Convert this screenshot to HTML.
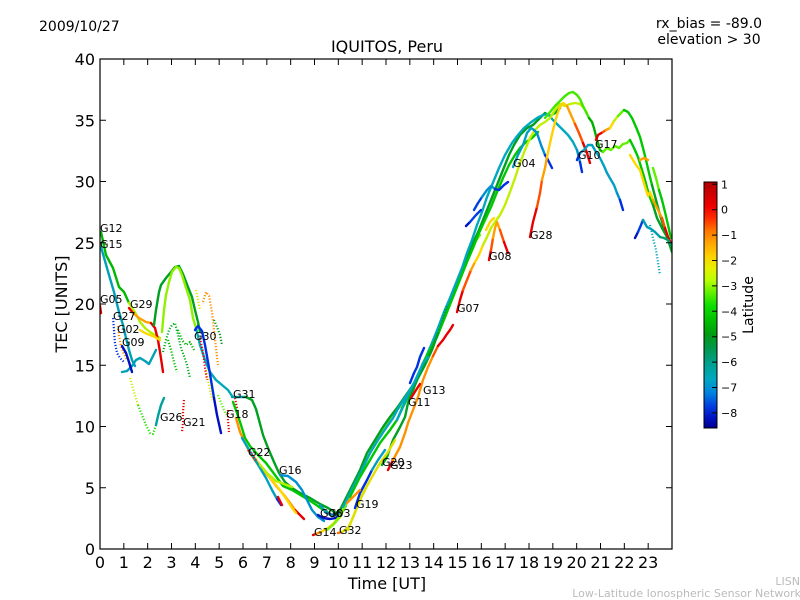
<!DOCTYPE html>
<html><head><meta charset="utf-8"><style>
html,body{margin:0;padding:0;background:#fff;}
svg{display:block;}
text{font-family:"DejaVu Sans","Liberation Sans",sans-serif;fill:#000;}
.d{stroke-width:2.2;stroke-dasharray:1.2 1.8;stroke-linecap:butt;}
</style></head><body>
<svg width="800" height="600" viewBox="0 0 800 600" xmlns="http://www.w3.org/2000/svg">
<defs>
<linearGradient id="cb" x1="0" y1="0" x2="0" y2="1">
<stop offset="0" stop-color="#b00000"/>
<stop offset="0.05" stop-color="#d00000"/>
<stop offset="0.10" stop-color="#f00000"/>
<stop offset="0.15" stop-color="#ff3000"/>
<stop offset="0.20" stop-color="#ff7800"/>
<stop offset="0.25" stop-color="#ffa800"/>
<stop offset="0.30" stop-color="#ffd000"/>
<stop offset="0.35" stop-color="#e8f000"/>
<stop offset="0.40" stop-color="#b8ff00"/>
<stop offset="0.45" stop-color="#60f000"/>
<stop offset="0.50" stop-color="#10e000"/>
<stop offset="0.56" stop-color="#00c000"/>
<stop offset="0.62" stop-color="#009a10"/>
<stop offset="0.68" stop-color="#009850"/>
<stop offset="0.74" stop-color="#00a090"/>
<stop offset="0.80" stop-color="#00a8c0"/>
<stop offset="0.86" stop-color="#0080e0"/>
<stop offset="0.91" stop-color="#0040e0"/>
<stop offset="0.96" stop-color="#0010c0"/>
<stop offset="1" stop-color="#000090"/>
</linearGradient>
<clipPath id="pa"><rect x="100" y="59" width="572" height="490"/></clipPath>
</defs>
<rect width="800" height="600" fill="#fff"/>

<g clip-path="url(#pa)" fill="none" stroke-linecap="round" stroke-linejoin="round" stroke-width="2.4">
<!-- early hours -->
<polyline stroke="#00b800" points="101,232 106,255 113,268 119,287 124,292 129,303"/>
<polyline stroke="#b0f000" points="129,303 131,306 136,314 140,322 145,328 150,332 155,335 160,338"/>
<polyline stroke="#00a0b8" points="101,247 109,275 114,292 119,312 123,325 126,338 129,350 132,360 135,366"/>
<polyline stroke="#00a0b8" points="122,372 127,371 132,366 136,360 140,358 145,361 149,364 153,356 156,350"/>
<polyline stroke="#e80000" points="100,306 101,313"/>
<polyline stroke="#e80000" points="129,308 133,313"/>
<polyline stroke="#ffa000" points="133,313 139,318 146,322 151,323"/>
<polyline stroke="#e80000" points="151,323 155,328 158,340 160,352 162,365 163,372"/>
<polyline stroke="#ffd800" points="140,330 145,333 150,335 155,337 160,340"/>
<polyline class="d" stroke="#0030e0" points="113,318 114,330 115,343 117,353 120,358 124,362"/>
<polyline class="d" stroke="#ff9000" points="118,326 119,336 121,346 124,354 127,360"/>
<polyline stroke="#0010c0" points="122,346 126,353 129,362 132,372"/>
<polyline class="d" stroke="#c0f000" points="130,378 134,392 138,405"/>
<polyline class="d" stroke="#20e000" points="138,405 142,415 146,425 150,433 153,434 156,425"/>
<polyline stroke="#00a0a0" points="156,425 158,416 161,405 164,398"/>
<polyline stroke="#00a020" points="154,325 156,310 159,292 161,285 166,278 171,272 175,267 179,266 183,274 188,287 192,297 195,310 198,322 200,332"/>
<polyline stroke="#90f000" points="162,332 164,310 166,295 169,282 172,272 176,267 179,268 182,275 186,288 190,300 193,318 196,328"/>
<polyline stroke="#00a8b8" points="196,328 200,345 205,360 210,372 216,380 222,385 228,390 232,396"/>
<polyline class="d" stroke="#00b020" points="163,352 166,340 169,330 172,325 175,323 178,335 181,348 184,356 187,365 190,378"/>
<polyline class="d" stroke="#00c000" points="168,340 171,350 174,362 177,372"/>
<polyline class="d" stroke="#00b000" points="178,330 182,340 186,345 190,342 194,350"/>
<polyline class="d" stroke="#e80000" points="184,400 183,412 183,422 182,432"/>
<polyline stroke="#0030e0" points="195,330 198,326 202,331 205,345 208,362 211,380 214,398"/>
<polyline stroke="#0010c0" points="214,398 217,415 221,433"/>
<polyline class="d" stroke="#ff9000" points="203,302 206,292 209,296 212,312 214,330 216,348 218,365"/>
<polyline class="d" stroke="#e8e000" points="196,290 198,300 200,310"/>
<polyline class="d" stroke="#e8e000" points="206,370 209,385 212,400"/>
<polyline class="d" stroke="#e80000" points="200,338 203,352 205,368 207,380"/>
<polyline class="d" stroke="#009a20" points="214,320 217,327 220,335 222,345"/>
<polyline class="d" stroke="#60f000" points="218,395 222,405 226,415"/>
<polyline class="d" stroke="#e80000" points="228,410 228,420 229,432"/>
<polyline class="d" stroke="#e80000" points="235,398 237,408"/>

<!-- descending 5-9h -->
<polyline stroke="#00a0a0" points="232,397 246,397"/>
<polyline stroke="#00a020" points="246,397 252,400 256,409 259,420 263,435 268,448 274,462 279,473 285,482 292,488 300,493 310,498 320,504 328,508 336,513"/>
<polyline stroke="#00c800" points="233,402 237,413 241,425 245,438 250,446 258,455 266,463 275,475 283,486 292,490 302,496 312,502 322,509 332,515"/>
<polyline stroke="#ff9000" points="236,418 240,432 245,443 250,453 256,462 263,470 270,478 277,487 284,495 290,503 295,510"/>
<polyline stroke="#e80000" points="295,510 300,515 304,519"/>
<polyline stroke="#ffd800" points="246,445 252,455 258,462 264,470 272,480 280,490 287,500 292,508 296,513"/>
<polyline stroke="#00a0c0" points="242,438 248,448 254,458 260,468 266,478 272,490 277,499"/>
<polyline stroke="#0030e0" points="277,499 281,505"/>
<polyline stroke="#0090d0" points="280,475 288,476 296,482 302,490 307,500 312,510 318,517 324,521"/>
<polyline stroke="#b0f000" points="260,465 268,474 276,481 284,484 292,487"/>
<polyline class="d" stroke="#e80000" points="248,450 252,455 256,460"/>
<polyline stroke="#e80000" points="278,497 282,505"/>

<!-- minimum cluster -->
<polyline stroke="#0010c0" points="318,515 323,518 330,519 336,518 340,514"/>
<polyline stroke="#0040e0" points="325,512 332,515 338,514 344,510"/>
<polyline stroke="#00a0b8" points="320,505 326,512 332,516 340,514 346,506"/>
<polyline stroke="#e80000" points="313,535 316,534"/>
<polyline stroke="#ff9000" points="316,534 321,532"/>
<polyline stroke="#ffd800" points="321,532 328,528 334,523"/>
<polyline stroke="#b0f000" points="334,523 340,516 344,508"/>
<polyline stroke="#ff7000" points="338,533 342,532"/>
<polyline stroke="#e0e000" points="342,532 348,528 352,520 356,510 360,500"/>
<polyline stroke="#b0f000" points="360,500 366,488"/>

<!-- rising band -->
<polyline stroke="#80f000" points="327,530 334,524 340,517 345,507 353,487 363,467 373,447 383,430 393,413 400,407 405,397 410,390 417,380 423,368 430,352 437,335 443,318 450,300 456,285 462,270 468,255 474,243 480,235"/>
<polyline stroke="#00a020" points="336,514 340,510 350,490 360,470 367,453 375,440 383,427 390,417 397,408 404,398 411,388 418,378 425,365 432,350 438,333 444,318 449,302 455,287 461,272 467,257 473,243 479,230 485,215 491,200 497,185 503,170 509,155 514,145 520,135 527,128 533,125 540,118 545,113 550,116 555,113 560,108"/>
<polyline stroke="#00a8c0" points="343,507 353,487 362,470 370,453 378,440 386,428 393,418 400,405 407,395 414,383 420,370 426,357 432,343 438,328 444,312 450,298 456,283 462,268 467,253 472,240 477,225 482,212 487,197 492,185 499,168 505,155 512,143 518,135 524,128 530,123 537,118 543,115 548,114 553,120 558,125 563,130 568,135 573,142 577,150"/>
<polyline stroke="#0090d0" points="577,150 580,162"/>
<polyline stroke="#0030e0" points="580,162 582,172"/>
<polyline stroke="#00c800" points="350,497 360,477 370,460 380,443 390,430 397,420 403,407 410,393 417,380 423,363 430,350 437,337 443,322 449,307 455,292 461,277 467,262 473,248 479,233 485,220 491,207 497,192 503,178 509,165 515,155 520,148 526,142 532,138 538,132"/>
<polyline stroke="#00a020" points="382,465 387,457 393,440 400,427 405,417 408,403 413,390 420,373 427,360 433,347 438,333"/>
<polyline class="d" stroke="#00a020" points="438,333 443,318 447,305"/>
<polyline stroke="#e80000" points="388,470 393,460"/>
<polyline stroke="#ff9000" points="393,460 400,447 405,433 408,423 413,410 418,397 423,380 428,367 433,356"/>
<polyline stroke="#ff5000" points="433,356 438,346"/>
<polyline stroke="#e80000" points="438,346 443,340 447,334 450,330 453,325"/>
<polyline stroke="#e0e000" points="348,530 353,517 357,507 363,493 372,477 380,463 388,452 395,440"/>
<polyline stroke="#0030e0" points="355,508 360,493 367,480 372,470"/>
<polyline stroke="#00a0c0" points="372,470 378,460 385,450"/>
<polyline stroke="#ff9000" points="347,503 353,497 360,490"/>
<polyline stroke="#0030e0" points="410,383 414,373 417,367 420,357 424,348"/>
<polyline stroke="#00a8c0" points="397,420 407,397 417,377 423,363 428,357"/>
<polyline stroke="#e80000" points="411,398 416,390 420,384"/>

<!-- afternoon -->
<polyline stroke="#e80000" points="457,312 460,300 463,290"/>
<polyline stroke="#ff5000" points="463,290 467,280 471,270"/>
<polyline stroke="#ffa000" points="471,270 475,262"/>
<polyline stroke="#ffd800" points="475,262 479,255 483,245"/>
<polyline stroke="#c0f000" points="483,245 487,237 491,228 495,222 500,215 505,205 510,192 515,178 520,163 525,150 530,138 535,130 540,125 545,122 550,118 555,110 560,104 565,106 570,104 575,103 580,104 584,108 587,113"/>
<polyline stroke="#e80000" points="489,260 491,250"/>
<polyline stroke="#ff5000" points="491,250 493,238"/>
<polyline stroke="#ffa000" points="493,238 495,228 497,222 500,230"/>
<polyline stroke="#ff5000" points="500,230 504,242"/>
<polyline stroke="#e80000" points="504,242 508,253"/>
<polyline stroke="#ffd800" points="486,230 490,222 494,218"/>
<polyline stroke="#0010c0" points="466,226 470,222"/>
<polyline stroke="#0040e0" points="470,222 476,215 481,210"/>
<polyline stroke="#0040e0" points="474,210 478,203 482,197"/>
<polyline stroke="#0090d0" points="482,197 487,190 491,186 495,189"/>
<polyline stroke="#0030e0" points="495,189 499,190 504,185 508,182"/>
<polyline stroke="#00a0c0" points="513,167 518,155 523,145 527,133 531,128 534,130"/>
<polyline stroke="#0090d0" points="534,130 537,133 541,145 545,155"/>
<polyline stroke="#0030e0" points="545,155 548,160 552,168"/>
<polyline stroke="#e80000" points="530,237 533,222 537,207"/>
<polyline stroke="#ff5000" points="537,207 540,193 542,180"/>
<polyline stroke="#ffa000" points="542,180 545,168 547,157"/>
<polyline stroke="#ffd000" points="547,157 550,143 553,130 557,115 560,107 563,103 567,106"/>
<polyline stroke="#ffa000" points="567,106 571,115 575,124"/>
<polyline stroke="#ff5000" points="575,124 579,133 583,143"/>
<polyline stroke="#e80000" points="583,143 587,153 590,163"/>
<polyline stroke="#40e800" points="545,118 550,112 555,106 560,101 565,96 569,93 573,92 577,95 580,99 583,106 586,112 589,118"/>
<polyline stroke="#00b000" points="589,118 592,122 594,128 597,140 600,150 603,152"/>
<polyline stroke="#0030e0" points="577,160 580,153"/>
<polyline stroke="#00a0c0" points="580,153 584,150 588,145 592,145 596,152 600,158 604,166 607,173 611,180 614,185 617,193"/>
<polyline stroke="#0090d0" points="617,193 620,200"/>
<polyline stroke="#0030e0" points="620,200 623,210"/>
<polyline stroke="#e80000" points="596,140 598,135 603,132"/>
<polyline stroke="#ff5000" points="603,132 606,130"/>
<polyline stroke="#ffa000" points="606,130 610,128"/>
<polyline stroke="#ffd800" points="610,128 614,121"/>
<polyline stroke="#c0f000" points="614,121 618,116"/>
<polyline stroke="#60f000" points="618,116 621,113 624,110"/>
<polyline stroke="#00c800" points="624,110 628,112 632,118 636,127 640,137 643,148 646,160 649,173 652,185"/>
<polyline stroke="#00a020" points="652,185 656,200 660,215 664,228 668,240 672,252"/>
<polyline stroke="#60f000" points="603,152 607,148 611,150 615,146 619,148 623,144 627,143 630,140"/>
<polyline stroke="#00c800" points="630,140 634,148 638,157 642,170 645,180 649,195 653,205"/>
<polyline stroke="#00a020" points="653,205 657,218 662,228 667,237 672,250"/>
<polyline stroke="#ffd800" points="630,155 633,160 636,165 640,170 643,180 646,190 648,196 650,192 653,200"/>
<polyline stroke="#ffa000" points="653,200 656,206 659,212 662,218"/>
<polyline stroke="#ff5000" points="662,218 665,228"/>
<polyline stroke="#e80000" points="665,228 668,237 672,245"/>
<polyline stroke="#ffa000" points="640,160 644,158 648,160"/>
<polyline stroke="#0010c0" points="635,238 638,232"/>
<polyline stroke="#0040e0" points="638,232 641,225 643,220"/>
<polyline stroke="#00a0b0" points="643,220 647,227 651,229 655,232 660,237"/>
<polyline stroke="#00a070" points="660,237 664,238 668,240 672,246"/>
<polyline class="d" stroke="#00a8c0" points="650,225 653,238 656,250 658,262 660,275"/>
<polyline stroke="#60f000" points="653,168 656,178 659,190"/>
<polyline stroke="#00c800" points="659,190 662,200 665,212 668,225 671,238"/>
</g>

<!-- labels on curves -->
<g font-size="11">
<text x="100" y="232">G12</text>
<text x="100" y="248">G15</text>
<text x="100" y="303">G05</text>
<text x="130" y="308">G29</text>
<text x="113" y="320">G27</text>
<text x="117" y="333">G02</text>
<text x="122" y="346">G09</text>
<text x="160" y="421">G26</text>
<text x="183" y="426">G21</text>
<text x="194" y="340">G30</text>
<text x="233" y="398">G31</text>
<text x="226" y="418">G18</text>
<text x="248" y="456">G22</text>
<text x="279" y="474">G16</text>
<text x="320" y="517">G06</text>
<text x="328" y="517">G03</text>
<text x="314" y="536">G14</text>
<text x="339" y="534">G32</text>
<text x="356" y="508">G19</text>
<text x="382" y="466">G20</text>
<text x="390" y="469">G23</text>
<text x="408" y="406">G11</text>
<text x="423" y="394">G13</text>
<text x="457" y="312">G07</text>
<text x="489" y="260">G08</text>
<text x="513" y="167">G04</text>
<text x="530" y="239">G28</text>
<text x="578" y="159">G10</text>
<text x="595" y="148">G17</text>
</g>

<!-- axes frame -->
<rect x="100" y="59" width="572" height="490" fill="none" stroke="#000" stroke-width="1.2"/>
<path stroke="#000" stroke-width="1" fill="none" d="
M123.83 549V543M147.67 549V543M171.5 549V543M195.33 549V543M219.17 549V543M243 549V543M266.83 549V543M290.67 549V543M314.5 549V543M338.33 549V543M362.17 549V543M386 549V543M409.83 549V543M433.67 549V543M457.5 549V543M481.33 549V543M505.17 549V543M529 549V543M552.83 549V543M576.67 549V543M600.5 549V543M624.33 549V543M648.17 549V543
M123.83 59V65M147.67 59V65M171.5 59V65M195.33 59V65M219.17 59V65M243 59V65M266.83 59V65M290.67 59V65M314.5 59V65M338.33 59V65M362.17 59V65M386 59V65M409.83 59V65M433.67 59V65M457.5 59V65M481.33 59V65M505.17 59V65M529 59V65M552.83 59V65M576.67 59V65M600.5 59V65M624.33 59V65M648.17 59V65
M100 487.75H106M100 426.5H106M100 365.25H106M100 304H106M100 242.75H106M100 181.5H106M100 120.25H106
M672 487.75H666M672 426.5H666M672 365.25H666M672 304H666M672 242.75H666M672 181.5H666M672 120.25H666"/>

<!-- tick labels -->
<g font-size="16" text-anchor="middle">
<text x="100" y="568">0</text><text x="123.83" y="568">1</text><text x="147.67" y="568">2</text><text x="171.5" y="568">3</text><text x="195.33" y="568">4</text><text x="219.17" y="568">5</text><text x="243" y="568">6</text><text x="266.83" y="568">7</text><text x="290.67" y="568">8</text><text x="314.5" y="568">9</text><text x="338.33" y="568">10</text><text x="362.17" y="568">11</text><text x="386" y="568">12</text><text x="409.83" y="568">13</text><text x="433.67" y="568">14</text><text x="457.5" y="568">15</text><text x="481.33" y="568">16</text><text x="505.17" y="568">17</text><text x="529" y="568">18</text><text x="552.83" y="568">19</text><text x="576.67" y="568">20</text><text x="600.5" y="568">21</text><text x="624.33" y="568">22</text><text x="648.17" y="568">23</text>
</g>
<g font-size="16" text-anchor="end">
<text x="95" y="555">0</text><text x="95" y="493.75">5</text><text x="95" y="432.5">10</text><text x="95" y="371.25">15</text><text x="95" y="310">20</text><text x="95" y="248.75">25</text><text x="95" y="187.5">30</text><text x="95" y="126.25">35</text><text x="95" y="65">40</text>
</g>

<text x="387" y="589" font-size="16" text-anchor="middle">Time [UT]</text>
<text transform="translate(67,304) rotate(-90)" font-size="16" text-anchor="middle">TEC [UNITS]</text>
<text x="387" y="52" font-size="16" text-anchor="middle">IQUITOS, Peru</text>
<text x="39" y="31" font-size="14">2009/10/27</text>
<text x="709" y="28" font-size="14" text-anchor="middle">rx_bias = -89.0</text>
<text x="709" y="44" font-size="14" text-anchor="middle">elevation &gt; 30</text>

<!-- colorbar -->
<rect x="704" y="182" width="13" height="246" fill="url(#cb)" stroke="#000" stroke-width="1"/>
<path stroke="#000" stroke-width="1" d="M712 184.3H717M712 209.7H717M712 235.1H717M712 260.5H717M712 285.9H717M712 311.3H717M712 336.7H717M712 362.1H717M712 387.5H717M712 412.9H717"/>
<g font-size="11">
<text x="721" y="188.3">1</text>
<text x="721" y="213.7">0</text>
<text x="721" y="239.1">−1</text>
<text x="721" y="264.5">−2</text>
<text x="721" y="289.9">−3</text>
<text x="721" y="315.3">−4</text>
<text x="721" y="340.7">−5</text>
<text x="721" y="366.1">−6</text>
<text x="721" y="391.5">−7</text>
<text x="721" y="416.9">−8</text>
</g>
<text transform="translate(753,305) rotate(-90)" font-size="14" text-anchor="middle">Latitude</text>

<text x="800" y="585" font-size="11" text-anchor="end" style="fill:#bbbbbb">LISN</text>
<text x="801" y="597" font-size="11" text-anchor="end" style="fill:#bbbbbb">Low-Latitude Ionospheric Sensor Network</text>
</svg>
</body></html>
